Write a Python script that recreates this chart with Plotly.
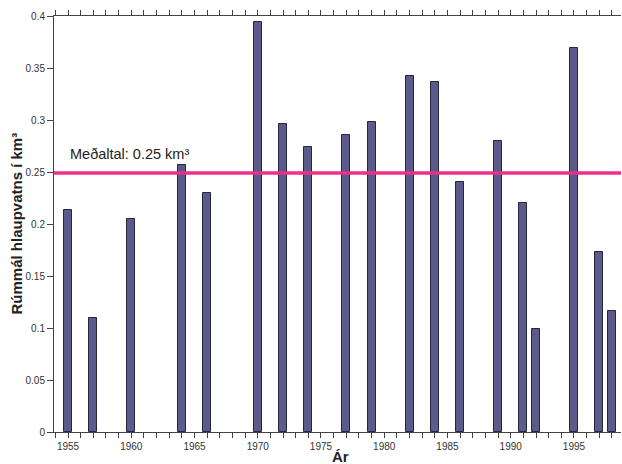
import plotly.graph_objects as go

years = [1955, 1957, 1960, 1964, 1966, 1970, 1972, 1974, 1977, 1979,
         1982, 1984, 1986, 1989, 1991, 1992, 1995, 1997, 1998]
volumes = [0.213, 0.110, 0.205, 0.257, 0.230, 0.394, 0.296, 0.274, 0.286, 0.298,
           0.342, 0.337, 0.240, 0.280, 0.220, 0.099, 0.369, 0.173, 0.116]
mean_value = 0.249
mean_label = "Meðaltal: 0.25 km³"
y_ticks = [0, 0.05, 0.1, 0.15, 0.2, 0.25, 0.3, 0.35, 0.4]
y_ticktext = ["0", "0.05", "0.1", "0.15", "0.2", "0.25", "0.3", "0.35", "0.4"]
x_ticks = [1955, 1960, 1965, 1970, 1975, 1980, 1985, 1990, 1995]
x_title = "Ár"
y_title = "Rúmmál hlaupvatns í km³"

fig = go.Figure()
fig.add_trace(go.Bar(
    x=years, y=volumes, width=0.63,
    marker=dict(color="#5c5a8a", line=dict(color="#26263f", width=1)),
    hoverinfo="x+y",
))
fig.add_shape(type="line", xref="paper", x0=0, x1=1, yref="y", y0=mean_value, y1=mean_value,
              line=dict(color="#ec3088", width=3.5))
fig.add_annotation(x=1955, y=mean_value, xref="x", yref="y", text=mean_label,
                   showarrow=False, xanchor="left", yanchor="bottom", yshift=9,
                   font=dict(size=14.5, color="#222", family="Liberation Sans, Arial, sans-serif"))
fig.add_annotation(x=0.505, y=0, xref="paper", yref="paper", text="<b>" + x_title + "</b>",
                   showarrow=False, xanchor="center", yanchor="top", yshift=-14,
                   font=dict(size=15, color="#222"))
fig.add_annotation(x=0, y=0.5, xref="paper", yref="paper", text="<b>" + y_title + "</b>",
                   showarrow=False, xanchor="right", yanchor="middle", xshift=-28, textangle=-90,
                   font=dict(size=15, color="#222"))

fig.update_layout(
    width=622, height=464,
    margin=dict(l=54, r=1, t=16, b=32),
    plot_bgcolor="white", paper_bgcolor="white",
    showlegend=False, bargap=0,
    font=dict(family="Liberation Sans, Arial, sans-serif", color="#333"),
)
fig.update_xaxes(
    range=[1953.89, 1998.72], tickvals=x_ticks, ticktext=[str(v) for v in x_ticks],
    ticks="outside", ticklen=5, tickcolor="#444", tickwidth=1,
    minor=dict(tickvals=list(range(1954, 1999)), ticks="outside", ticklen=5, tickcolor="#444", tickwidth=1),
    showline=True, linecolor="#444", linewidth=1, mirror="allticks",
    showgrid=False, zeroline=False, automargin=False,
    tickfont=dict(size=10, color="#333"),
)
fig.update_yaxes(
    range=[0, 0.4], tickvals=y_ticks, ticktext=y_ticktext,
    ticks="outside", ticklen=6, tickcolor="#444", tickwidth=1,
    showline=True, linecolor="#444", linewidth=1,
    showgrid=False, zeroline=False, automargin=False,
    tickfont=dict(size=10, color="#333"),
)

fig.write_html("out.html", config={"displayModeBar": False},
               post_script="document.body.style.margin='0';document.body.style.overflow='hidden';")
